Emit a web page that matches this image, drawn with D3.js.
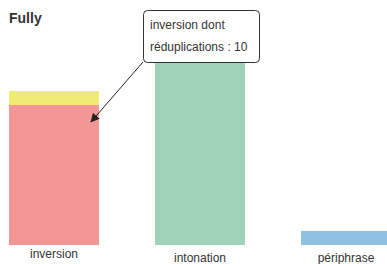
<!DOCTYPE html>
<html>
<head>
  <meta charset="utf-8">
  <title>Fully</title>
  <script src="https://d3js.org/d3.v7.min.js"></script>
<style type="text/css">
body {
  margin: 0;
  font-family: "Liberation Sans", Arial, Helvetica, sans-serif;
  color: #333;
}
svg text {
  fill: #333;
}
</style>
</head>
<body>
<svg id="chart" width="387" height="264"></svg>

<script type="text/javascript">

// data
let categories = ['inversion', 'intonation', 'périphrase'];
let mainValues = [100, 140, 10];
let redupValues = [10, 0, 0];
let colors = ['#f29696', '#9ed3b9', '#90c0e2'];
let redupColor = '#f0eb72';
let annotationLines = ['inversion dont', 'réduplications : 10'];

let svg = d3.select('#chart');

let x = d3.scaleBand()
  .domain(categories)
  .range([0, 400])
  .paddingInner(0.384)
  .paddingOuter(0.062);

let y = d3.scaleLinear()
  .domain([0, 100])
  .range([245, 105]);

// title
svg.append('text')
  .attr('x', 9)
  .attr('y', 23)
  .style('font-size', '14px')
  .style('font-weight', 'bold')
  .text('Fully');

// main bars
svg.append('g')
  .selectAll('rect')
  .data(categories)
  .join('rect')
  .attr('x', d => x(d))
  .attr('width', x.bandwidth())
  .attr('y', (d, i) => y(mainValues[i]))
  .attr('height', (d, i) => y(0) - y(mainValues[i]))
  .attr('fill', (d, i) => colors[i]);

// reduplication segment stacked on top
svg.append('g')
  .selectAll('rect')
  .data(categories.filter((d, i) => redupValues[i] > 0))
  .join('rect')
  .attr('x', d => x(d))
  .attr('width', x.bandwidth())
  .attr('y', d => {
    let i = categories.indexOf(d);
    return y(mainValues[i] + redupValues[i]);
  })
  .attr('height', d => {
    let i = categories.indexOf(d);
    return y(mainValues[i]) - y(mainValues[i] + redupValues[i]);
  })
  .attr('fill', redupColor);

// category labels
svg.append('g')
  .selectAll('text')
  .data(categories)
  .join('text')
  .attr('x', d => x(d) + x.bandwidth() / 2)
  .attr('y', (d, i) => i === 0 ? 258 : 262)
  .attr('text-anchor', 'middle')
  .style('font-size', '12px')
  .text(d => d);

// annotation
svg.append('defs')
  .append('marker')
  .attr('id', 'arrow')
  .attr('viewBox', '0 0 10 10')
  .attr('refX', 9)
  .attr('refY', 5)
  .attr('markerWidth', 9)
  .attr('markerHeight', 9)
  .attr('markerUnits', 'userSpaceOnUse')
  .attr('orient', 'auto')
  .append('path')
  .attr('d', 'M0,0L10,5L0,10z')
  .attr('fill', '#222');

let target = [x('inversion') + 82, y(mainValues[0] - 12)];

svg.append('line')
  .attr('x1', 143)
  .attr('y1', 62)
  .attr('x2', target[0])
  .attr('y2', target[1])
  .attr('stroke', '#222')
  .attr('stroke-width', 1)
  .attr('marker-end', 'url(#arrow)');

let note = svg.append('g').attr('transform', 'translate(143,10)');

note.append('rect')
  .attr('x', 0.5)
  .attr('y', 0.5)
  .attr('width', 116)
  .attr('height', 52)
  .attr('rx', 4)
  .attr('fill', '#fff')
  .attr('stroke', '#333');

note.selectAll('text')
  .data(annotationLines)
  .join('text')
  .attr('x', 7)
  .attr('y', (d, i) => 19 + i * 22)
  .style('font-size', '12px')
  .text(d => d);

</script>
</body>
</html>
